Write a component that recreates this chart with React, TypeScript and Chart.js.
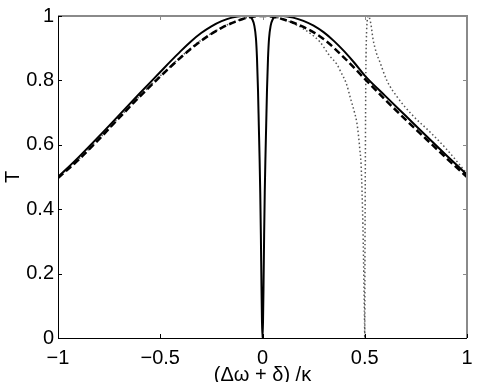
import React, { useEffect, useRef } from 'react';
import { Chart, registerables } from 'chart.js';

Chart.register(...registerables);

// ---- axis ticks ----
const xTicks = [-1, -0.5, 0, 0.5, 1];
const xTickLabels = ['−1', '−0.5', '0', '0.5', '1'];
const yTicks = [0, 0.2, 0.4, 0.6, 0.8, 1];
const yTickLabels = ['0', '0.2', '0.4', '0.6', '0.8', '1'];
const xTitle = '(Δω + δ) /κ';
const yTitle = 'T';

// ---- solid curve ----
const solidX = [-1, -0.9, -0.8, -0.7, -0.6, -0.5, -0.45, -0.4, -0.35, -0.3, -0.25, -0.2, -0.15, -0.1, -0.07, -0.05, -0.04, -0.032, -0.027, -0.022, -0.018, -0.014, -0.011, -0.008, -0.005, -0.0025, 0, 0.0025, 0.005, 0.008, 0.011, 0.014, 0.018, 0.022, 0.027, 0.032, 0.04, 0.05, 0.07, 0.1, 0.15, 0.2, 0.25, 0.3, 0.35, 0.4, 0.45, 0.5, 0.6, 0.7, 0.8, 0.9, 1];
const solidT = [0.5, 0.561, 0.626, 0.693, 0.76, 0.826, 0.859, 0.891, 0.921, 0.947, 0.968, 0.984, 0.995, 1.0, 1.0, 0.99, 0.97, 0.93, 0.87, 0.77, 0.66, 0.55, 0.45, 0.32, 0.16, 0.05, 0, 0.05, 0.16, 0.32, 0.45, 0.55, 0.66, 0.77, 0.87, 0.93, 0.97, 0.99, 1.0, 1.0, 0.995, 0.985, 0.97, 0.949, 0.922, 0.89, 0.854, 0.815, 0.752, 0.69, 0.628, 0.567, 0.507];

// ---- dashed curve ----
const dashX = [-1, -0.9, -0.8, -0.7, -0.6, -0.5, -0.4, -0.3, -0.2, -0.1, -0.05, 0, 0.05, 0.1, 0.2, 0.3, 0.4, 0.5, 0.6, 0.7, 0.8, 0.9, 1];
const dashT = [0.497, 0.553, 0.617, 0.684, 0.75, 0.812, 0.871, 0.923, 0.963, 0.99, 0.998, 1.0, 0.998, 0.99, 0.966, 0.928, 0.87, 0.805, 0.74, 0.678, 0.618, 0.558, 0.5];

// ---- dotted curve ----
const dotX = [-1, -0.9, -0.8, -0.7, -0.6, -0.5, -0.4, -0.3, -0.2, -0.1, -0.05, 0, 0.05, 0.1, 0.2, 0.28, 0.33, 0.364, 0.38, 0.41, 0.43, 0.45, 0.461, 0.47, 0.476, 0.482, 0.487, 0.491, 0.494, 0.497, 0.499, 0.5, 0.501, 0.503, 0.505, 0.508, 0.512, 0.518, 0.53, 0.54, 0.557, 0.574, 0.608, 0.657, 0.736, 0.819, 0.902, 1];
const dotT = [0.5, 0.555, 0.619, 0.686, 0.752, 0.814, 0.873, 0.925, 0.964, 0.991, 0.998, 1.0, 0.998, 0.99, 0.96, 0.92, 0.875, 0.85, 0.83, 0.79, 0.745, 0.7, 0.67, 0.625, 0.585, 0.54, 0.45, 0.35, 0.25, 0.13, 0.05, 0, 0.25, 0.55, 0.8, 0.93, 0.985, 1.0, 0.975, 0.93, 0.885, 0.857, 0.8, 0.75, 0.69, 0.64, 0.585, 0.51];

const W = 477;
const H = 382;
const FONT = "'Liberation Sans', Arial, Helvetica, sans-serif";

const zip = (xs: number[], ys: number[]) => xs.map((x, i) => ({ x, y: ys[i] }));

const framePlugin = {
  id: 'matlabFrame',
  afterDatasetsDraw(chart: any) {
    const { ctx, chartArea, scales } = chart;
    const { left, right, top, bottom } = chartArea;
    const xs = scales.x;
    const ys = scales.y;
    const tl = 4;
    ctx.save();
    // top & right (gray)
    ctx.strokeStyle = '#8a8a8a';
    ctx.lineWidth = 2;
    ctx.beginPath();
    ctx.moveTo(left, top);
    ctx.lineTo(right, top);
    ctx.lineTo(right, bottom);
    ctx.stroke();
    xTicks.forEach((v) => {
      const px = Math.round(xs.getPixelForValue(v)) + 0.5;
      ctx.lineWidth = 1;
      ctx.beginPath();
      ctx.moveTo(px, top);
      ctx.lineTo(px, top + tl);
      ctx.stroke();
    });
    yTicks.forEach((v) => {
      const py = Math.round(ys.getPixelForValue(v)) + 0.5;
      ctx.lineWidth = 1;
      ctx.beginPath();
      ctx.moveTo(right, py);
      ctx.lineTo(right - tl, py);
      ctx.stroke();
    });
    // left & bottom (black)
    ctx.strokeStyle = '#000';
    ctx.lineWidth = 1;
    ctx.beginPath();
    ctx.moveTo(left + 0.5, top);
    ctx.lineTo(left + 0.5, bottom + 0.5);
    ctx.lineTo(right, bottom + 0.5);
    ctx.stroke();
    xTicks.forEach((v) => {
      const px = Math.round(xs.getPixelForValue(v)) + 0.5;
      ctx.beginPath();
      ctx.moveTo(px, bottom);
      ctx.lineTo(px, bottom - tl);
      ctx.stroke();
    });
    yTicks.forEach((v) => {
      const py = Math.round(ys.getPixelForValue(v)) + 0.5;
      ctx.beginPath();
      ctx.moveTo(left, py);
      ctx.lineTo(left + tl, py);
      ctx.stroke();
    });
    ctx.restore();
  },
};

export default function App() {
  const canvasRef = useRef<HTMLCanvasElement | null>(null);

  useEffect(() => {
    document.body.style.margin = '0';
    const canvas = canvasRef.current;
    if (!canvas) return;
    const chart = new Chart(canvas, {
      type: 'line',
      data: {
        datasets: [
          {
            label: 'solid',
            data: zip(solidX, solidT),
            borderColor: '#000',
            borderWidth: 2,
            pointRadius: 0,
            cubicInterpolationMode: 'monotone',
            order: 1,
          },
          {
            label: 'dashed',
            data: zip(dashX, dashT),
            borderColor: '#000',
            borderWidth: 2.5,
            borderDash: [7, 3.5],
            pointRadius: 0,
            cubicInterpolationMode: 'monotone',
            order: 2,
          },
          {
            label: 'dotted',
            data: zip(dotX, dotT),
            borderColor: '#555',
            borderWidth: 1.5,
            borderDash: [1.5, 2.5],
            pointRadius: 0,
            cubicInterpolationMode: 'monotone',
            order: 3,
          },
        ],
      },
      options: {
        responsive: false,
        animation: false,
        devicePixelRatio: 1,
        layout: { padding: { top: 16, right: 10, left: 0, bottom: 0 } },
        plugins: {
          legend: { display: false },
          tooltip: { enabled: false },
        },
        scales: {
          x: {
            type: 'linear',
            min: -1,
            max: 1,
            afterBuildTicks: (s: any) => {
              s.ticks = xTicks.map((v) => ({ value: v }));
            },
            afterFit: (s: any) => {
              s.height = 44;
              s.paddingLeft = 0;
              s.paddingRight = 0;
            },
            grid: { display: false, drawTicks: false },
            border: { display: false },
            ticks: {
              autoSkip: false,
              maxRotation: 0,
              padding: 8,
              color: '#000',
              font: { family: FONT, size: 20 },
              callback: (_v: any, i: number) => xTickLabels[i],
            },
            title: {
              display: true,
              text: xTitle,
              color: '#000',
              font: { family: FONT, size: 20, lineHeight: 1 },
              padding: { top: 0, bottom: -3 },
            },
          },
          y: {
            type: 'linear',
            min: 0,
            max: 1,
            afterBuildTicks: (s: any) => {
              s.ticks = yTicks.map((v) => ({ value: v }));
            },
            afterFit: (s: any) => {
              s.width = 58;
              s.paddingTop = 0;
              s.paddingBottom = 0;
            },
            grid: { display: false, drawTicks: false },
            border: { display: false },
            ticks: {
              autoSkip: false,
              padding: 4,
              color: '#000',
              font: { family: FONT, size: 20 },
              callback: (_v: any, i: number) => yTickLabels[i],
            },
            title: {
              display: true,
              text: yTitle,
              color: '#000',
              font: { family: FONT, size: 20, lineHeight: 1 },
              padding: { top: 3, bottom: 0 },
            },
          },
        },
      },
      plugins: [framePlugin],
    } as any);
    return () => chart.destroy();
  }, []);

  return (
    <div style={{ width: W, height: H, background: '#fff' }}>
      <canvas ref={canvasRef} width={W} height={H} style={{ display: 'block', width: W, height: H }} />
    </div>
  );
}
